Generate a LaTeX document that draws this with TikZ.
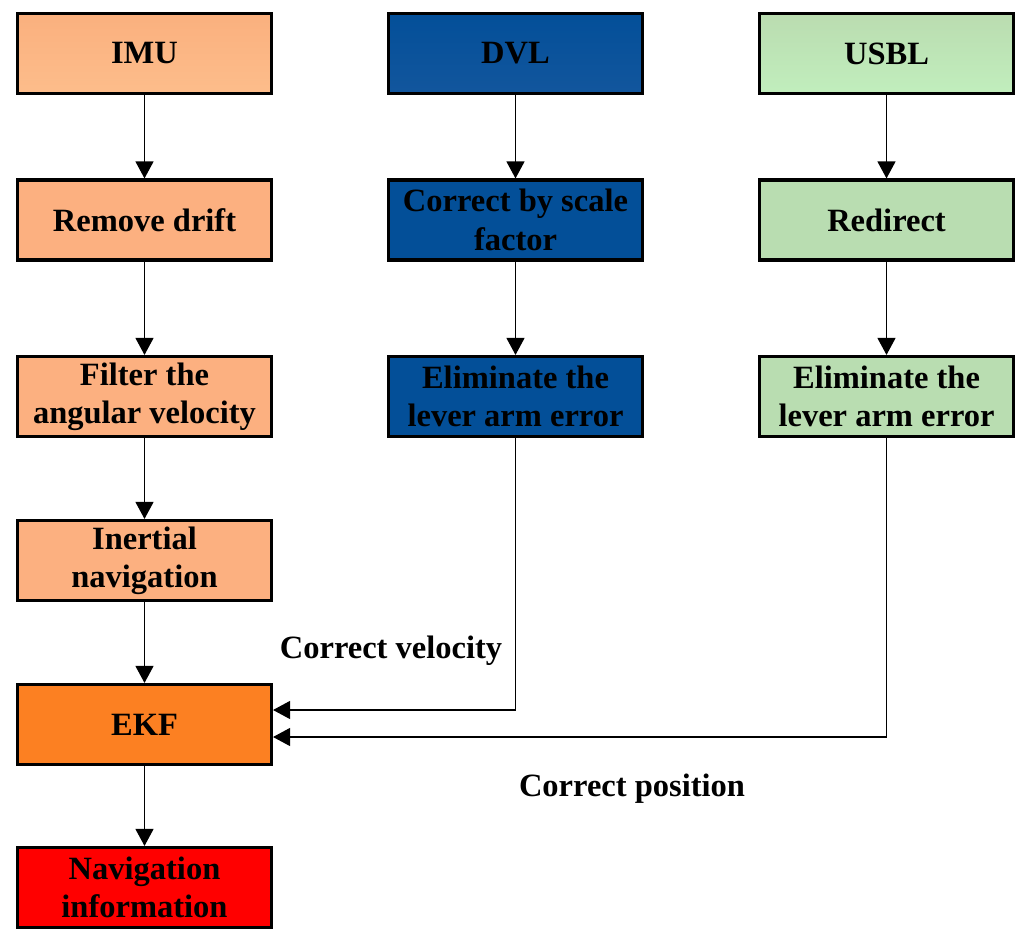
\documentclass[tikz,border=0pt]{standalone}
\usepackage{fontspec}
\setmainfont{Liberation Serif}
\usepackage{xcolor}
\usetikzlibrary{arrows.meta}
\definecolor{imutop}{RGB}{250,176,126}
\definecolor{imubot}{RGB}{253,189,139}
\definecolor{imuflat}{RGB}{252,176,128}
\definecolor{dvltop}{RGB}{3,79,153}
\definecolor{dvlbot}{RGB}{18,86,157}
\definecolor{dvlflat}{RGB}{3,79,152}
\definecolor{usbltop}{RGB}{186,220,176}
\definecolor{usblbot}{RGB}{193,238,189}
\definecolor{usblflat}{RGB}{185,221,177}
\definecolor{ekforange}{RGB}{252,128,34}
\definecolor{navred}{RGB}{255,0,0}

\begin{document}
\begin{tikzpicture}[x=0.02cm, y=-0.02cm,
  every node/.style={font=\fontsize{18.5}{21.8}\selectfont\bfseries},
  box/.style={draw=black, line width=1.8pt, minimum width=5.08cm, minimum height=1.6cm, align=center, inner sep=0pt},
  arr/.style={-{Triangle[length=0.34cm,width=0.36cm]}, line width=0.7pt}]
\useasboundingbox (0,0) rectangle (1020,929);
% IMU column
\node[box, top color=imutop, bottom color=imubot] (imu) at (144.5,53.5) {IMU};
\node[box, fill=imuflat] (drift) at (144.5,220) {Remove drift};
\node[box, fill=imuflat] (filter) at (144.5,396.5) {Filter the\\angular velocity};
\node[box, fill=imuflat] (inertial) at (144.5,560.5) {Inertial\\navigation};
\node[box, fill=ekforange] (ekf) at (144.5,724.5) {EKF};
\node[box, fill=navred] (navinfo) at (144.5,887.5) {Navigation\\information};
% DVL column
\node[box, top color=dvltop, bottom color=dvlbot] (dvl) at (515.5,53.5) {DVL};
\node[box, fill=dvlflat] (scale) at (515.5,220) {Correct by scale\\factor};
\node[box, fill=dvlflat] (dvllever) at (515.5,396.5) {Eliminate the\\lever arm error};
% USBL column
\node[box, top color=usbltop, bottom color=usblbot] (usbl) at (886.5,53.5) {USBL};
\node[box, fill=usblflat] (redirect) at (886.5,220) {Redirect};
\node[box, fill=usblflat] (usbllever) at (886.5,396.5) {Eliminate the\\lever arm error};
% labels
\node (velo) at (391,651) {Correct velocity};
\node (posi) at (632,789) {Correct position};
% connectors
\draw[arr] (imu) -- (drift);
\draw[arr] (drift) -- (filter);
\draw[arr] (filter) -- (inertial);
\draw[arr] (inertial) -- (ekf);
\draw[arr] (ekf) -- (navinfo);
\draw[arr] (dvl) -- (scale);
\draw[arr] (scale) -- (dvllever);
\draw[arr] (usbl) -- (redirect);
\draw[arr] (redirect) -- (usbllever);
\draw[arr] (dvllever.south) |- ([yshift=0.29cm]ekf.east);
\draw[arr] (usbllever.south) |- ([yshift=-0.25cm]ekf.east);
\end{tikzpicture}
\end{document}
